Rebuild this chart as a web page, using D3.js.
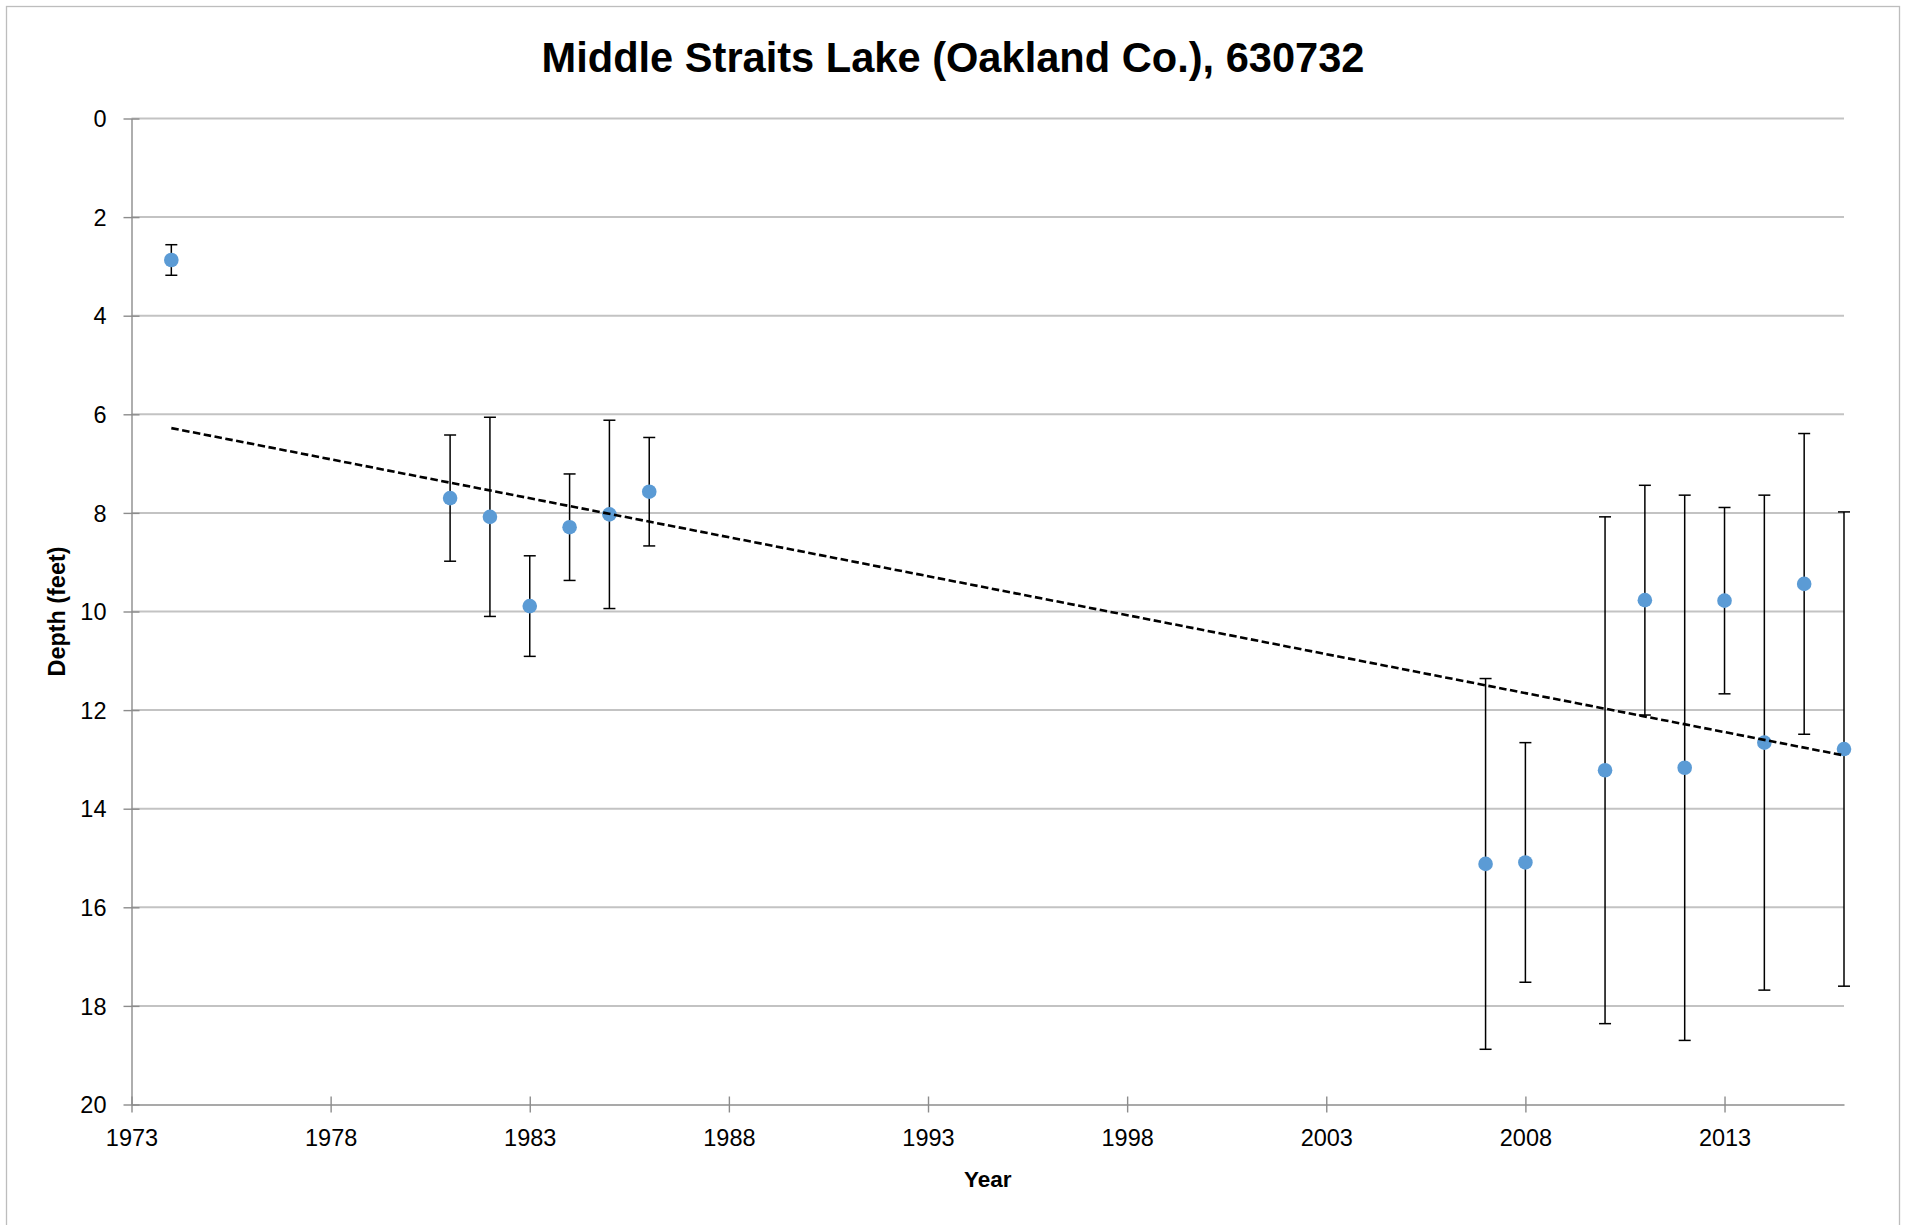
<!DOCTYPE html>
<html>
<head>
<meta charset="utf-8">
<script src="https://cdn.jsdelivr.net/npm/d3@7"></script>
<style>
  html, body { margin: 0; padding: 0; background: #fff; }
  svg text { font-family: "Liberation Sans", Arial, sans-serif; fill: #000; }
</style>
</head>
<body>
<svg id="chart" width="1906" height="1225"></svg>
<script>
// values
var years  = [1974, 1981, 1982, 1983, 1984, 1985, 1986, 2007, 2008, 2010, 2011, 2012, 2013, 2014, 2015, 2016];
var depths = [2.87, 7.70, 8.08, 9.89, 8.29, 8.03, 7.57, 15.12, 15.09, 13.22, 9.77, 13.17, 9.78, 12.66, 9.44, 12.79];
var errors = [0.31, 1.28, 2.02, 1.02, 1.08, 1.91, 1.10, 3.76, 2.43, 5.14, 2.33, 5.53, 1.89, 5.02, 3.05, 4.81];
var trendYears  = [1974, 2016];
var trendDepths = [6.28, 12.92];
var xTicks = [1973, 1978, 1983, 1988, 1993, 1998, 2003, 2008, 2013];
var yTicks = [0, 2, 4, 6, 8, 10, 12, 14, 16, 18, 20];
var title = 'Middle Straits Lake (Oakland Co.), 630732';

(function () {
  var svg = d3.select('#chart'),
      pLeft = 131.5, pRight = 1844, pTop = 118.5, pBottom = 1104.5;

  var x = d3.scaleLinear().domain([1973, 2016]).range([pLeft, pRight]);
  var y = d3.scaleLinear().domain([0, 20]).range([pTop, pBottom]);

  var points = years.map(function(yr, i) {
    return { year: yr, depth: depths[i], err: errors[i] };
  });

  // chart border
  svg.append('rect')
    .attr('x', 6.5).attr('y', 6.5)
    .attr('width', 1893).attr('height', 1240)
    .attr('fill', 'none').attr('stroke', '#bdbdbd').attr('stroke-width', 1.3);

  // gridlines
  svg.append('g')
    .selectAll('line')
    .data(yTicks.slice(0, -1))
    .enter().append('line')
      .attr('x1', pLeft).attr('x2', pRight)
      .attr('y1', function(d) { return y(d); })
      .attr('y2', function(d) { return y(d); })
      .attr('stroke', '#c3c3c3').attr('stroke-width', 2);

  // y axis
  var yAxis = svg.append('g')
    .attr('transform', 'translate(' + pLeft + ',0)')
    .call(d3.axisLeft(y).tickValues(yTicks).tickSize(8).tickPadding(17).tickSizeOuter(0));
  yAxis.selectAll('.tick line').attr('x1', 8).attr('x2', -8);

  // x axis
  var xAxis = svg.append('g')
    .attr('transform', 'translate(0,' + pBottom + ')')
    .call(d3.axisBottom(x).tickValues(xTicks).tickFormat(d3.format('d')).tickSize(8).tickPadding(17).tickSizeOuter(0));
  xAxis.selectAll('.tick line').attr('y1', -8).attr('y2', 8);

  svg.selectAll('.domain, .tick line').attr('stroke', '#8c8c8c').attr('stroke-width', 1.4);
  svg.selectAll('.tick text')
    .style('font-family', '"Liberation Sans", Arial, sans-serif')
    .style('font-size', '23.5px').attr('fill', '#000');
  yAxis.selectAll('.tick text').attr('dy', '0.35em');

  // error bars
  var bars = svg.append('g').selectAll('g')
    .data(points)
    .enter().append('g')
      .attr('stroke', '#000').attr('stroke-width', 1.5);

  bars.append('line')
    .attr('x1', function(d) { return x(d.year); })
    .attr('x2', function(d) { return x(d.year); })
    .attr('y1', function(d) { return y(d.depth - d.err); })
    .attr('y2', function(d) { return y(d.depth + d.err); });

  bars.append('line')
    .attr('x1', function(d) { return x(d.year) - 6; })
    .attr('x2', function(d) { return x(d.year) + 6; })
    .attr('y1', function(d) { return y(d.depth - d.err); })
    .attr('y2', function(d) { return y(d.depth - d.err); });

  bars.append('line')
    .attr('x1', function(d) { return x(d.year) - 6; })
    .attr('x2', function(d) { return x(d.year) + 6; })
    .attr('y1', function(d) { return y(d.depth + d.err); })
    .attr('y2', function(d) { return y(d.depth + d.err); });

  // markers
  svg.append('g').selectAll('circle')
    .data(points)
    .enter().append('circle')
      .attr('cx', function(d) { return x(d.year); })
      .attr('cy', function(d) { return y(d.depth); })
      .attr('r', 7.3)
      .attr('fill', '#5b9bd5');

  // linear trend line
  var trend = d3.line()
    .x(function(d) { return x(d[0]); })
    .y(function(d) { return y(d[1]); });

  svg.append('path')
    .datum(d3.zip(trendYears, trendDepths))
    .attr('d', trend)
    .attr('fill', 'none')
    .attr('stroke', '#000')
    .attr('stroke-width', 2.6)
    .attr('stroke-dasharray', '7.5,3.5');

  // titles
  svg.append('text')
    .attr('x', 953).attr('y', 71.7)
    .attr('text-anchor', 'middle')
    .style('font-size', '41.6px').style('font-weight', 'bold')
    .text(title);

  svg.append('text')
    .attr('x', (pLeft + pRight) / 2).attr('y', 1187.3)
    .attr('text-anchor', 'middle')
    .style('font-size', '22.5px').style('font-weight', 'bold')
    .text('Year');

  svg.append('text')
    .attr('transform', 'translate(65,' + ((pTop + pBottom) / 2) + ') rotate(-90)')
    .attr('text-anchor', 'middle')
    .style('font-size', '23.4px').style('font-weight', 'bold')
    .text('Depth (feet)');
})();
</script>
</body>
</html>
